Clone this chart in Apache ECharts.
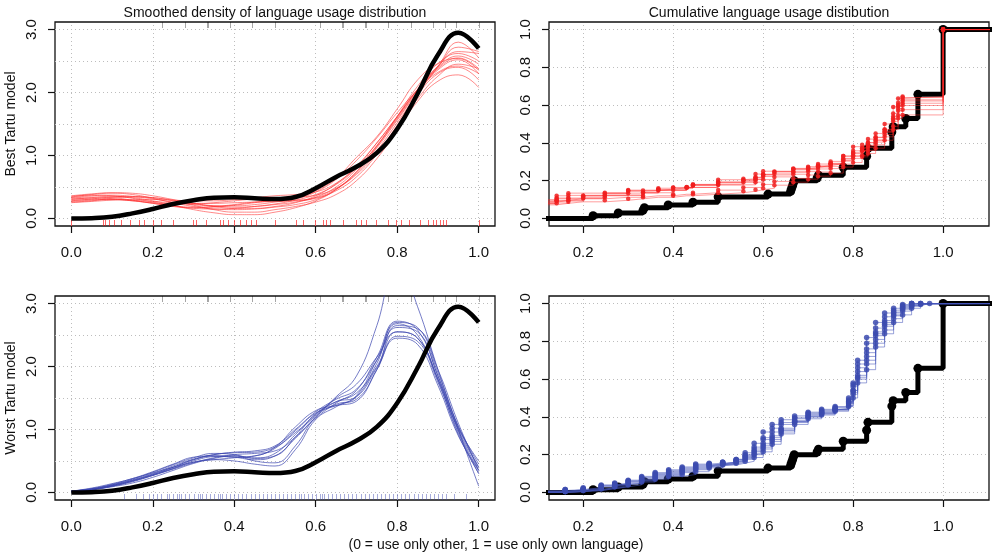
<!DOCTYPE html>
<html><head><meta charset="utf-8">
<script src="https://cdn.jsdelivr.net/npm/echarts@6/dist/echarts.min.js"></script>
<style>html,body{margin:0;padding:0;background:#fff}#c{width:993px;height:556px}</style>
</head><body><div id="c"></div>
<script>
// ---------- DATA ----------
const densX = [0,0.05,0.1,0.15,0.2,0.25,0.3,0.35,0.4,0.45,0.5,0.55,0.6,0.65,0.7,0.75,0.8,0.85,0.9,0.95,1.0];
const refDensity = [0,0.005,0.026,0.08,0.15,0.23,0.29,0.33,0.335,0.322,0.307,0.34,0.48,0.66,0.82,1.04,1.42,1.98,2.6,2.95,2.70];
const redDens1  = [0.36,0.39,0.41,0.40,0.36,0.30,0.24,0.19,0.16,0.16,0.19,0.25,0.36,0.55,0.83,1.20,1.62,2.05,2.40,2.58,2.45];
const redDens2  = [0.33,0.36,0.37,0.35,0.31,0.26,0.22,0.20,0.20,0.22,0.26,0.31,0.42,0.62,0.92,1.28,1.68,2.04,2.32,2.42,2.30];
const redDens3  = [0.30,0.33,0.35,0.33,0.28,0.21,0.14,0.09,0.06,0.06,0.10,0.17,0.28,0.46,0.74,1.14,1.62,2.10,2.46,2.62,2.50];
const redDens4  = [0.27,0.29,0.30,0.29,0.27,0.25,0.24,0.24,0.25,0.26,0.27,0.28,0.32,0.44,0.66,1.02,1.48,1.96,2.30,2.40,2.20];
const redDens5  = [0.25,0.27,0.29,0.30,0.30,0.29,0.28,0.28,0.30,0.33,0.36,0.38,0.42,0.56,0.82,1.20,1.62,2.05,2.42,2.65,2.62];
const redDens6  = [0.32,0.34,0.33,0.29,0.24,0.19,0.16,0.15,0.16,0.19,0.23,0.29,0.38,0.54,0.80,1.15,1.58,2.02,2.38,2.55,2.38];
const redDens7  = [0.35,0.37,0.36,0.32,0.26,0.20,0.17,0.18,0.21,0.25,0.29,0.33,0.44,0.64,0.97,1.30,1.74,2.20,2.46,2.54,2.35];
const redDens8  = [0.28,0.31,0.34,0.35,0.33,0.28,0.21,0.14,0.10,0.10,0.14,0.19,0.26,0.38,0.60,0.95,1.40,1.86,2.18,2.28,2.08];
const redDens9  = [0.31,0.32,0.31,0.28,0.25,0.23,0.23,0.25,0.28,0.31,0.33,0.34,0.37,0.48,0.70,1.04,1.46,1.90,2.26,2.45,2.38];
const redDens10 = [0.34,0.38,0.40,0.38,0.32,0.25,0.19,0.15,0.14,0.15,0.18,0.22,0.30,0.46,0.72,1.08,1.52,1.98,2.40,2.72,2.65];
const redDens11 = [0.29,0.30,0.30,0.28,0.24,0.20,0.18,0.19,0.22,0.26,0.28,0.29,0.33,0.47,0.74,1.12,1.56,2.00,2.36,2.52,2.30];
const redDens12 = [0.26,0.28,0.32,0.34,0.33,0.29,0.24,0.20,0.18,0.19,0.22,0.26,0.34,0.50,0.78,1.16,1.60,2.04,2.42,2.80,2.55];
const blueDens1  = [0.02,0.05,0.10,0.17,0.27,0.38,0.50,0.57,0.58,0.55,0.62,0.92,1.24,1.44,1.58,2.00,2.55,2.45,1.80,1.00,0.40];
const blueDens2  = [0.02,0.06,0.12,0.20,0.30,0.42,0.53,0.60,0.64,0.66,0.74,1.00,1.28,1.48,1.64,2.10,2.62,2.55,1.85,1.05,0.45];
const blueDens3  = [0.01,0.04,0.09,0.15,0.24,0.35,0.46,0.54,0.58,0.50,0.47,0.74,1.20,1.40,1.48,1.95,2.65,2.60,1.95,1.10,0.35];
const blueDens4  = [0.02,0.06,0.13,0.22,0.31,0.40,0.48,0.52,0.55,0.58,0.70,0.98,1.26,1.38,1.52,2.05,2.70,2.62,1.90,1.05,0.40];
const blueDens5  = [0.01,0.05,0.11,0.19,0.29,0.40,0.52,0.58,0.56,0.52,0.58,0.86,1.18,1.42,1.62,2.15,2.72,2.58,1.85,0.98,0.35];
const blueDens6  = [0.02,0.07,0.14,0.22,0.33,0.45,0.56,0.58,0.56,0.58,0.72,1.04,1.30,1.38,1.45,1.95,2.48,2.40,1.75,0.95,0.30];
const blueDens7  = [0.02,0.05,0.10,0.18,0.28,0.40,0.52,0.60,0.63,0.64,0.72,0.95,1.22,1.52,1.85,2.65,3.70,2.95,1.95,1.00,0.10];
const blueDens8  = [0.01,0.04,0.10,0.18,0.27,0.37,0.47,0.55,0.60,0.62,0.66,0.88,1.20,1.50,1.72,2.15,2.55,2.45,1.80,1.02,0.50];
const blueDens9  = [0.02,0.05,0.11,0.19,0.28,0.38,0.48,0.52,0.50,0.45,0.42,0.68,1.16,1.36,1.54,2.10,2.68,2.50,1.78,0.92,0.30];
const blueDens10 = [0.01,0.05,0.12,0.21,0.32,0.44,0.55,0.62,0.60,0.54,0.58,0.88,1.25,1.44,1.52,1.98,2.45,2.35,1.70,0.90,0.35];

// reference (black) data: jump locations of the empirical CDF and cumulative share
const refX = [0.222,0.278,0.333,0.336,0.389,0.444,0.5,0.611,0.661,0.663,0.665,0.667,0.669,0.72,0.723,0.778,0.83,0.833,0.886,0.889,0.917,0.944,1.0];
const refY = [0.014,0.029,0.043,0.057,0.071,0.086,0.114,0.129,0.143,0.157,0.171,0.186,0.2,0.214,0.229,0.271,0.329,0.371,0.457,0.486,0.529,0.657,1.0];

// best model (red) simulated data: shared jump locations, cumulative shares per run
const redX = [0.10,0.141,0.167,0.2,0.222,0.248,0.3,0.333,0.367,0.4,0.43,0.444,0.5,0.556,0.583,0.6,0.625,0.667,0.7,0.722,0.75,0.778,0.8,0.82,0.833,0.85,0.87,0.889,0.9,0.91,1.0];
const redCdf1 = [0.078,0.092,0.092,0.106,0.106,0.120,0.134,0.134,0.148,0.148,0.162,0.176,0.190,0.204,0.218,0.232,0.246,0.260,0.274,0.288,0.302,0.330,0.358,0.372,0.400,0.428,0.456,0.540,0.582,0.610,1];
const redCdf2 = [0.086,0.096,0.104,0.104,0.104,0.112,0.112,0.120,0.120,0.128,0.128,0.136,0.150,0.164,0.164,0.180,0.196,0.212,0.230,0.246,0.264,0.288,0.318,0.334,0.360,0.390,0.432,0.488,0.546,0.576,1];
const redCdf3 = [0.094,0.108,0.122,0.122,0.122,0.136,0.150,0.150,0.150,0.164,0.164,0.164,0.178,0.192,0.206,0.234,0.248,0.262,0.262,0.276,0.290,0.318,0.346,0.374,0.402,0.430,0.472,0.556,0.612,0.640,1];
const redCdf4 = [0.072,0.080,0.088,0.088,0.088,0.096,0.104,0.112,0.112,0.120,0.120,0.128,0.136,0.144,0.152,0.160,0.176,0.192,0.208,0.224,0.240,0.272,0.296,0.326,0.344,0.372,0.414,0.470,0.530,0.548,1];
const redCdf5 = [0.080,0.094,0.108,0.122,0.122,0.122,0.122,0.136,0.136,0.150,0.164,0.164,0.178,0.178,0.192,0.206,0.220,0.234,0.248,0.262,0.276,0.304,0.346,0.360,0.388,0.416,0.444,0.514,0.570,0.598,1];
const redCdf6 = [0.090,0.104,0.104,0.118,0.118,0.132,0.146,0.146,0.160,0.160,0.160,0.174,0.188,0.202,0.216,0.230,0.230,0.244,0.258,0.272,0.286,0.314,0.328,0.356,0.384,0.412,0.468,0.524,0.594,0.622,1];
const redCdf7 = [0.082,0.082,0.096,0.110,0.110,0.124,0.124,0.138,0.152,0.152,0.166,0.180,0.194,0.194,0.208,0.222,0.236,0.250,0.264,0.278,0.292,0.306,0.334,0.362,0.376,0.404,0.460,0.530,0.600,0.628,1];
const redCdf8 = [0.100,0.120,0.134,0.134,0.134,0.134,0.145,0.148,0.155,0.162,0.165,0.180,0.205,0.210,0.235,0.250,0.250,0.265,0.270,0.280,0.290,0.330,0.380,0.390,0.420,0.450,0.500,0.590,0.635,0.645,1];

// worst model (blue) simulated data
const blueX = [0.10,0.16,0.20,0.24,0.27,0.30,0.33,0.36,0.39,0.42,0.45,0.48,0.51,0.54,0.56,0.58,0.60,0.62,0.64,0.67,0.70,0.73,0.76,0.79,0.80,0.81,0.83,0.85,0.87,0.89,0.91,0.93,0.95,0.97];
const blueCdf1 = [0.005,0.010,0.015,0.030,0.040,0.055,0.070,0.090,0.105,0.120,0.135,0.145,0.155,0.170,0.190,0.220,0.260,0.300,0.340,0.380,0.410,0.425,0.440,0.470,0.540,0.640,0.740,0.840,0.900,0.950,0.980,1.000,1.000,1.000];
const blueCdf2 = [0.000,0.005,0.010,0.020,0.030,0.045,0.060,0.075,0.090,0.105,0.120,0.135,0.150,0.160,0.175,0.200,0.230,0.270,0.320,0.370,0.400,0.415,0.435,0.460,0.520,0.600,0.680,0.790,0.860,0.920,0.960,0.985,1.000,1.000];
const blueCdf3 = [0.010,0.015,0.025,0.040,0.050,0.065,0.085,0.105,0.120,0.135,0.150,0.155,0.160,0.175,0.210,0.260,0.320,0.360,0.385,0.405,0.425,0.440,0.455,0.500,0.580,0.700,0.820,0.900,0.950,0.975,0.995,1.000,1.000,1.000];
const blueCdf4 = [0.000,0.005,0.015,0.025,0.035,0.050,0.065,0.080,0.095,0.110,0.125,0.140,0.150,0.165,0.185,0.215,0.250,0.290,0.330,0.375,0.405,0.420,0.440,0.480,0.540,0.620,0.720,0.830,0.890,0.940,0.975,0.990,1.000,1.000];
const blueCdf5 = [0.005,0.010,0.020,0.035,0.045,0.060,0.075,0.095,0.110,0.125,0.140,0.150,0.160,0.170,0.200,0.240,0.290,0.340,0.370,0.395,0.415,0.430,0.450,0.490,0.570,0.680,0.790,0.870,0.930,0.965,0.990,1.000,1.000,1.000];
const blueCdf6 = [0.000,0.005,0.010,0.020,0.030,0.040,0.055,0.070,0.085,0.095,0.110,0.130,0.145,0.155,0.165,0.185,0.215,0.255,0.310,0.360,0.390,0.410,0.430,0.455,0.500,0.580,0.650,0.770,0.840,0.900,0.940,0.975,0.995,1.000];
const blueCdf7 = [0.005,0.015,0.020,0.035,0.045,0.060,0.080,0.100,0.115,0.130,0.145,0.150,0.160,0.175,0.195,0.230,0.280,0.320,0.360,0.390,0.420,0.435,0.445,0.480,0.560,0.660,0.760,0.850,0.910,0.955,0.985,1.000,1.000,1.000];
const blueCdf8 = [0.000,0.005,0.015,0.025,0.040,0.050,0.065,0.085,0.100,0.115,0.130,0.145,0.155,0.165,0.180,0.205,0.240,0.280,0.330,0.375,0.400,0.420,0.440,0.475,0.530,0.610,0.700,0.810,0.880,0.935,0.970,0.990,1.000,1.000];

// rug positions
const refRug = [0.222,0.278,0.333,0.336,0.389,0.444,0.5,0.611,0.664,0.667,0.72,0.723,0.778,0.833,0.889,0.917,0.944,1.0];
const redRug = [0,0.077,0.083,0.093,0.106,0.122,0.143,0.167,0.179,0.2,0.22,0.249,0.298,0.306,0.331,0.364,0.372,0.384,0.4,0.413,0.43,0.441,0.454,0.499,0.552,0.568,0.597,0.617,0.626,0.634,0.667,0.699,0.712,0.724,0.749,0.777,0.798,0.81,0.83,0.855,0.875,0.888,0.896,0.904,0.912,0.92,1.0];
const blueRug = [0.13,0.16,0.175,0.19,0.2,0.21,0.22,0.235,0.24,0.25,0.26,0.265,0.27,0.28,0.29,0.3,0.31,0.315,0.32,0.33,0.34,0.35,0.36,0.365,0.37,0.38,0.39,0.4,0.41,0.42,0.43,0.44,0.45,0.46,0.47,0.48,0.49,0.5,0.51,0.52,0.53,0.54,0.55,0.56,0.565,0.57,0.58,0.59,0.6,0.61,0.615,0.62,0.63,0.64,0.65,0.66,0.67,0.68,0.69,0.7,0.71,0.72,0.73,0.74,0.75,0.76,0.77,0.78,0.79,0.8,0.81,0.82,0.83,0.84,0.85,0.86,0.87,0.88,0.89,0.9,0.91,0.92,0.94,0.97];

// tick labels / grid positions
const densTicksX = [0,0.2,0.4,0.6,0.8,1.0];
const densTicksY = [0,1,2,3];
const densGridY = [0,0.5,1,1.5,2,2.5,3];
const cdfTicksX = [0.2,0.4,0.6,0.8,1.0];
const cdfTicksY = [0,0.2,0.4,0.6,0.8,1.0];

const titleLeft = 'Smoothed density of language usage distribution';
const titleRight = 'Cumulative language usage distibution';
const yNameTop = 'Best Tartu model';
const yNameBottom = 'Worst Tartu model';
const xNameBottom = '(0 = use only other, 1 = use only own language)';

// ---------- CHART ----------
const FONT = '"Liberation Sans", Arial, Helvetica, sans-serif';
const densRange = {xmin:-0.04, xmax:1.04, ymin:-0.12, ymax:3.12};
const cdfRange = {xmin:0.124, xmax:1.102, ymin:-0.04, ymax:1.04};

const grids = [
  {left:55, top:22, width:440, height:204},
  {left:549, top:22, width:440, height:204},
  {left:55, top:296, width:440, height:204},
  {left:549, top:296, width:440, height:204}
].map(g => Object.assign(g, {show:true, borderColor:'#111', borderWidth:1.3, backgroundColor:'transparent'}));

const fmt = v => Number(v).toFixed(1);
function xAxis(g, r, ticks) {
  return {type:'value', gridIndex:g, min:r.xmin, max:r.xmax,
    axisLine:{show:false, onZero:false}, splitLine:{show:false},
    axisTick:{show:true, customValues:ticks, length:7, lineStyle:{color:'#111', width:1.2}},
    axisLabel:{show:true, customValues:ticks, formatter:fmt, margin:19, fontFamily:FONT, fontSize:15, color:'#111'}};
}
function yAxis(g, r, ticks, name) {
  return {type:'value', gridIndex:g, min:r.ymin, max:r.ymax,
    name:name||'', nameLocation:'middle', nameGap:37, nameTextStyle:{fontFamily:FONT, fontSize:14, color:'#111'},
    axisLine:{show:false, onZero:false}, splitLine:{show:false},
    axisTick:{show:true, customValues:ticks, length:7, lineStyle:{color:'#111', width:1.2}},
    axisLabel:{show:true, customValues:ticks, formatter:fmt, rotate:90, margin:16, fontFamily:FONT, fontSize:15, color:'#111'}};
}

function gridLines(g, gx, gy) {
  return {type:'line', xAxisIndex:g, yAxisIndex:g, data:[], silent:true, z:0,
    markLine:{silent:true, z:0, symbol:'none', animation:false, label:{show:false},
      lineStyle:{type:[1,3], color:'#bdbdbd', width:1},
      data:[...gx.map(v=>({xAxis:v})), ...gy.map(v=>({yAxis:v}))]}};
}

function rug(g, vals, side, color) {
  return {type:'custom', xAxisIndex:g, yAxisIndex:g, silent:true, z:3, clip:false,
    data: vals.map(v=>[v,0]),
    renderItem:(params, api)=>{
      const x = Math.round(api.coord([api.value(0),0])[0]) + 0.5;
      const cs = params.coordSys;
      const y0 = side==='bottom' ? cs.y+cs.height : cs.y;
      const y1 = side==='bottom' ? y0-6 : y0+6;
      return {type:'line', shape:{x1:x,y1:y0,x2:x,y2:y1}, style:{stroke:color, lineWidth:1}};
    }};
}

function dens(g, ys, color, width, z) {
  return {type:'line', xAxisIndex:g, yAxisIndex:g, smooth:0.45, showSymbol:false, silent:true, z:z,
    data: densX.map((x,i)=>[x, ys[i]]), lineStyle:{color:color, width:width}, clip:true};
}

function ecdf(g, xs, ys, lineColor, dotColor, lw, ss, z, startX) {
  const data = [];
  if (startX !== undefined) data.push({value:[startX, 0], symbol:'none'});
  xs.forEach((x,i)=>{
    const prev = i>0 ? ys[i-1] : (startX!==undefined ? 0 : -1);
    data.push({value:[x, ys[i]], symbol: (i>0 || startX!==undefined) && ys[i] > prev ? 'circle' : 'none'});
  });
  data.push({value:[cdfRange.xmax+0.05, ys[ys.length-1]], symbol:'none'});
  return {type:'line', xAxisIndex:g, yAxisIndex:g, step:'end', showSymbol:true, symbol:'circle', symbolSize:ss,
    silent:true, z:z, clip:true, data:data,
    lineStyle:{color:lineColor, width:lw}, itemStyle:{color:dotColor, borderWidth:0}};
}

const redDens = [redDens1,redDens2,redDens3,redDens4,redDens5,redDens6,redDens7,redDens8,redDens9,redDens10,redDens11,redDens12];
const blueDens = [blueDens1,blueDens2,blueDens3,blueDens4,blueDens5,blueDens6,blueDens7,blueDens8,blueDens9,blueDens10];
const redCdfs = [redCdf1,redCdf2,redCdf3,redCdf4,redCdf5,redCdf6,redCdf7,redCdf8];
const blueCdfs = [blueCdf1,blueCdf2,blueCdf3,blueCdf4,blueCdf5,blueCdf6,blueCdf7,blueCdf8];

const series = [];
series.push(gridLines(0, densTicksX, densGridY));
series.push(gridLines(1, cdfTicksX, cdfTicksY));
series.push(gridLines(2, densTicksX, densGridY));
series.push(gridLines(3, cdfTicksX, cdfTicksY));

// top-left
redDens.forEach(d=>series.push(dens(0, d, 'rgba(255,40,40,0.55)', 1, 2)));
series.push(dens(0, refDensity, '#000', 4.5, 5));
series.push(rug(0, redRug, 'bottom', 'rgba(255,0,0,0.6)'));
series.push(rug(0, refRug, 'top', 'rgba(0,0,0,0.35)'));
// bottom-left
blueDens.forEach(d=>series.push(dens(2, d, 'rgba(60,70,175,0.7)', 1, 2)));
series.push(dens(2, refDensity, '#000', 4.5, 5));
series.push(rug(2, blueRug, 'bottom', 'rgba(60,70,175,0.45)'));
series.push(rug(2, refRug, 'top', 'rgba(0,0,0,0.35)'));
// top-right
series.push(ecdf(1, refX, refY, '#000', '#000', 5, 9, 2, cdfRange.xmin-0.05));
redCdfs.forEach(d=>series.push(ecdf(1, redX, d, 'rgba(255,40,40,0.45)', 'rgba(240,30,30,0.85)', 1, 4.5, 4)));
// bottom-right
series.push(ecdf(3, refX, refY, '#000', '#000', 5, 9, 2, cdfRange.xmin-0.05));
blueCdfs.forEach(d=>series.push(ecdf(3, blueX, d, 'rgba(70,85,185,0.55)', 'rgba(60,75,175,0.85)', 1, 5.5, 4)));

const textStyle = (t,x,y)=>({type:'text', x:x, y:y, silent:true,
  style:{text:t, x:0, y:0, align:'center', verticalAlign:'middle', textAlign:'center', textVerticalAlign:'middle', font:'14px '+FONT, fill:'#111'}});

const option = {
  animation:false,
  backgroundColor:'#fff',
  grid: grids,
  xAxis: [xAxis(0,densRange,densTicksX), xAxis(1,cdfRange,cdfTicksX), xAxis(2,densRange,densTicksX), xAxis(3,cdfRange,cdfTicksX)],
  yAxis: [yAxis(0,densRange,densTicksY,yNameTop), yAxis(1,cdfRange,cdfTicksY), yAxis(2,densRange,densTicksY,yNameBottom), yAxis(3,cdfRange,cdfTicksY)],
  series: series,
  graphic: [textStyle(titleLeft, 275, 13), textStyle(titleRight, 769, 13), textStyle(xNameBottom, 496, 545)]
};
const chart = echarts.init(document.getElementById('c'));
chart.setOption(option);
</script>
</body></html>
